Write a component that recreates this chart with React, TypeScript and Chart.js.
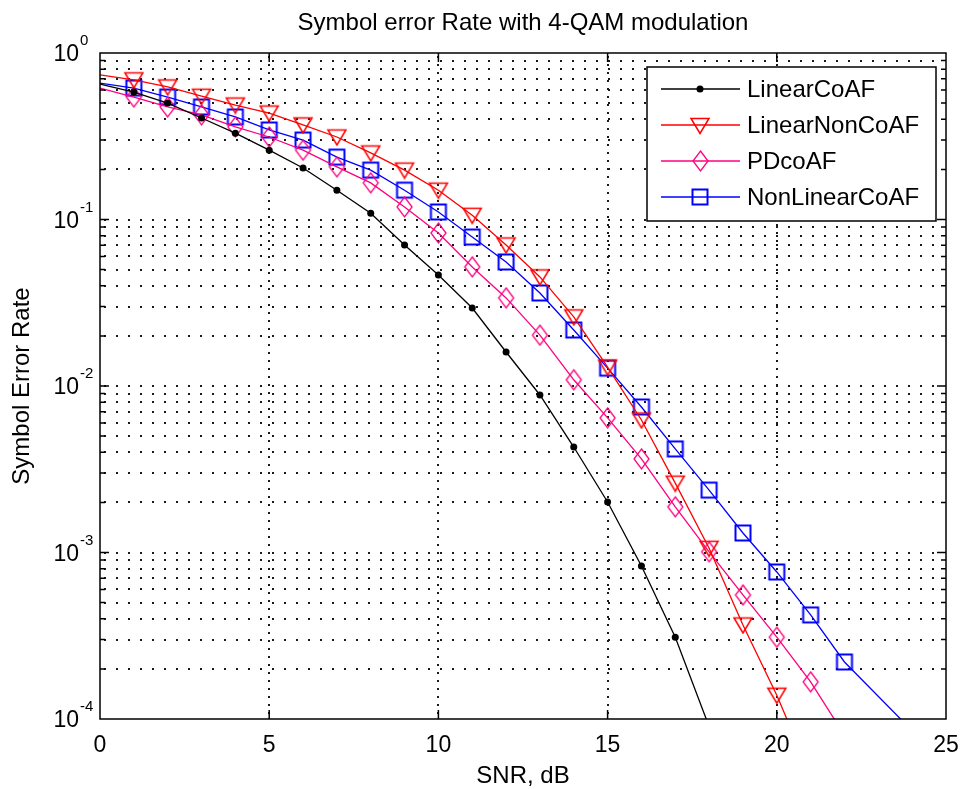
import React, { useEffect, useRef } from 'react';
import { Chart, registerables } from 'chart.js';

Chart.register(...registerables);

// ---- data ----
const snr = [0, 1, 2, 3, 4, 5, 6, 7, 8, 9, 10, 11, 12, 13, 14, 15, 16, 17, 18, 19, 20, 21, 22, 23, 24];
const linearCoAF = [0.65, 0.583, 0.5, 0.407, 0.33, 0.261, 0.204, 0.150, 0.109, 0.0703, 0.0464, 0.0294, 0.016, 0.00883, 0.0043, 0.00201, 0.00083, 0.00031, 0.00009];
const linearNonCoAF = [0.74, 0.69, 0.625, 0.55, 0.487, 0.436, 0.37, 0.313, 0.251, 0.198, 0.150, 0.106, 0.0703, 0.0452, 0.026, 0.013, 0.00625, 0.00261, 0.00106, 0.000367, 0.000139, 0.000046];
const pdCoAF = [0.616, 0.544, 0.474, 0.425, 0.36, 0.313, 0.261, 0.207, 0.166, 0.119, 0.083, 0.0519, 0.0338, 0.0202, 0.0109, 0.00643, 0.00365, 0.00188, 0.00101, 0.000556, 0.00031, 0.000167, 0.00008];
const nonLinearCoAF = [0.66, 0.616, 0.544, 0.474, 0.413, 0.345, 0.30, 0.237, 0.198, 0.150, 0.111, 0.0785, 0.0556, 0.0362, 0.0217, 0.0128, 0.00748, 0.00419, 0.00237, 0.00131, 0.000764, 0.000422, 0.00022, null, 0.000085];
const seriesNames = ['LinearCoAF', 'LinearNonCoAF', 'PDcoAF', 'NonLinearCoAF'];

const xTickValues = [0, 5, 10, 15, 20, 25];
const xTickLabels = ['0', '5', '10', '15', '20', '25'];
const yDecadeValues = [1e-4, 1e-3, 1e-2, 1e-1, 1];
const yTickBase = '10';
const yTickExponents = ['-4', '-3', '-2', '-1', '0'];
const yMinorMultipliers = [2, 3, 4, 5, 6, 7, 8, 9];

const titleText = 'Symbol error Rate with 4-QAM modulation';
const xTitle = 'SNR, dB';
const yTitle = 'Symbol Error Rate';

const FONT = '"Liberation Sans", Arial, Helvetica, sans-serif';

function toPoints(values: (number | null)[]) {
  return values
    .map((v, i) => ({ x: snr[i], y: v }))
    .filter((p) => p.y !== null);
}

function makeMarker(w: number, h: number, draw: (c: CanvasRenderingContext2D) => void) {
  const c = document.createElement('canvas');
  c.width = w;
  c.height = h;
  const ctx = c.getContext('2d') as CanvasRenderingContext2D;
  draw(ctx);
  return c;
}

export default function App() {
  const ref = useRef<HTMLCanvasElement | null>(null);

  useEffect(() => {
    const canvas = ref.current;
    if (!canvas) return;

    const tri = makeMarker(22, 19, (c) => {
      c.strokeStyle = '#ff0000';
      c.lineWidth = 1.5;
      c.beginPath();
      c.moveTo(2, 2.5);
      c.lineTo(20, 2.5);
      c.lineTo(11, 17.5);
      c.closePath();
      c.stroke();
    });
    const dia = makeMarker(19, 24, (c) => {
      c.strokeStyle = '#ff0080';
      c.lineWidth = 1.3;
      c.beginPath();
      c.moveTo(9.5, 2);
      c.lineTo(17, 12);
      c.lineTo(9.5, 22);
      c.lineTo(2, 12);
      c.closePath();
      c.stroke();
    });
    const sq = makeMarker(20, 20, (c) => {
      c.strokeStyle = '#0000ff';
      c.lineWidth = 2;
      c.strokeRect(2.5, 2.5, 15, 15);
    });

    const hideFirst = (r: number) => (ctx: any) => (ctx.dataIndex === 0 ? 0 : r);

    const axesPlugin = {
      id: 'matlabAxes',
      beforeDatasetsDraw(chart: any) {
        const { ctx, chartArea: a, scales } = chart;
        const xs = scales.x;
        const ys = scales.y;
        ctx.save();
        ctx.fillStyle = '#ffffff';
        ctx.fillRect(a.left, a.top, a.right - a.left, a.bottom - a.top);
        ctx.fillStyle = '#1a1a1a';
        const yVals: number[] = [];
        for (let d = 0; d < yDecadeValues.length; d++) {
          const dec = yDecadeValues[d];
          if (d > 0 && d < yDecadeValues.length - 1) yVals.push(dec);
          if (d < yDecadeValues.length - 1) yMinorMultipliers.forEach((m) => yVals.push(dec * m));
        }
        yVals.forEach((v) => {
          const y = Math.round(ys.getPixelForValue(v));
          for (let x = a.left + 4; x < a.right - 2; x += 12) ctx.fillRect(Math.round(x), y - 1, 2, 2);
        });
        xTickValues.forEach((v) => {
          const x = Math.round(xs.getPixelForValue(v));
          if (x <= a.left + 1 || x >= a.right - 1) return;
          for (let y = a.top + 3; y < a.bottom - 1; y += 8) ctx.fillRect(x - 1, Math.round(y), 2, 2);
        });
        ctx.restore();
      },
      afterDatasetsDraw(chart: any) {
        const { ctx, chartArea: a, scales } = chart;
        const xs = scales.x;
        const ys = scales.y;
        ctx.save();
        ctx.strokeStyle = '#000';
        ctx.lineWidth = 1.5;
        ctx.strokeRect(a.left, a.top, a.right - a.left, a.bottom - a.top);
        ctx.beginPath();
        for (let d = 0; d < yDecadeValues.length; d++) {
          const dec = yDecadeValues[d];
          const y = ys.getPixelForValue(dec);
          if (d > 0 && d < yDecadeValues.length - 1) {
            ctx.moveTo(a.left, y); ctx.lineTo(a.left + 9, y);
            ctx.moveTo(a.right, y); ctx.lineTo(a.right - 9, y);
          }
          if (d < yDecadeValues.length - 1) {
            yMinorMultipliers.forEach((m) => {
              const ym = ys.getPixelForValue(dec * m);
              ctx.moveTo(a.left, ym); ctx.lineTo(a.left + 5, ym);
              ctx.moveTo(a.right, ym); ctx.lineTo(a.right - 5, ym);
            });
          }
        }
        xTickValues.forEach((v) => {
          const x = xs.getPixelForValue(v);
          if (x <= a.left + 1 || x >= a.right - 1) return;
          ctx.moveTo(x, a.bottom); ctx.lineTo(x, a.bottom - 9);
          ctx.moveTo(x, a.top); ctx.lineTo(x, a.top + 9);
        });
        ctx.stroke();

        ctx.fillStyle = '#000';
        ctx.font = `23px ${FONT}`;
        ctx.textAlign = 'center';
        ctx.textBaseline = 'middle';
        xTickValues.forEach((v, i) => {
          ctx.fillText(xTickLabels[i], xs.getPixelForValue(v), a.bottom + 27);
        });
        yDecadeValues.forEach((v, i) => {
          const y = ys.getPixelForValue(v);
          ctx.font = `23px ${FONT}`;
          ctx.textAlign = 'right';
          ctx.textBaseline = 'middle';
          ctx.fillText(yTickBase, a.left - 21, y + 2);
          ctx.font = `15px ${FONT}`;
          ctx.textAlign = 'left';
          ctx.fillText(yTickExponents[i], a.left - 20, y - 12);
        });
        ctx.font = `24px ${FONT}`;
        ctx.textAlign = 'center';
        ctx.textBaseline = 'middle';
        ctx.fillText(titleText, (a.left + a.right) / 2, 23);
        ctx.fillText(xTitle, (a.left + a.right) / 2, a.bottom + 57);
        ctx.save();
        ctx.translate(22, (a.top + a.bottom) / 2);
        ctx.rotate(-Math.PI / 2);
        ctx.fillText(yTitle, 0, 0);
        ctx.restore();

        const lx = 647, ly = 67, lw = 289, lh = 154;
        ctx.fillStyle = '#fff';
        ctx.fillRect(lx, ly, lw, lh);
        ctx.strokeStyle = '#000';
        ctx.lineWidth = 1.5;
        ctx.strokeRect(lx, ly, lw, lh);
        const rows = [89, 125, 161, 197];
        chart.data.datasets.forEach((ds: any, i: number) => {
          const y = rows[i];
          ctx.strokeStyle = ds.borderColor;
          ctx.lineWidth = ds.borderWidth;
          ctx.beginPath();
          ctx.moveTo(661, y);
          ctx.lineTo(740, y);
          ctx.stroke();
          const ps = ds.pointStyle;
          if (ps && typeof ps === 'object') {
            ctx.drawImage(ps, Math.round(700 - ps.width / 2), Math.round(y - ps.height / 2));
          } else {
            ctx.fillStyle = ds.pointBackgroundColor;
            ctx.beginPath();
            ctx.arc(700, y, 3.5, 0, Math.PI * 2);
            ctx.fill();
          }
          ctx.fillStyle = '#000';
          ctx.font = `24px ${FONT}`;
          ctx.textAlign = 'left';
          ctx.textBaseline = 'middle';
          ctx.fillText(seriesNames[i], 747, y + 1);
        });
        ctx.restore();
      },
    };

    const chart = new Chart(canvas, {
      type: 'line',
      data: {
        datasets: [
          {
            label: seriesNames[0],
            data: toPoints(linearCoAF),
            borderColor: '#000000',
            borderWidth: 1.3,
            pointStyle: 'circle',
            pointRadius: hideFirst(3.5),
            pointBackgroundColor: '#000000',
            pointBorderWidth: 0,
            tension: 0,
            clip: 0,
          },
          {
            label: seriesNames[1],
            data: toPoints(linearNonCoAF),
            borderColor: '#ff0000',
            borderWidth: 1.3,
            pointStyle: tri,
            pointRadius: hideFirst(8),
            tension: 0,
            clip: 0,
          },
          {
            label: seriesNames[2],
            data: toPoints(pdCoAF),
            borderColor: '#ff0080',
            borderWidth: 1.3,
            pointStyle: dia,
            pointRadius: hideFirst(8),
            tension: 0,
            clip: 0,
          },
          {
            label: seriesNames[3],
            data: toPoints(nonLinearCoAF),
            borderColor: '#0000ff',
            borderWidth: 1.3,
            pointStyle: sq,
            pointRadius: hideFirst(8),
            tension: 0,
            clip: 0,
          },
        ] as any,
      },
      options: {
        responsive: false,
        animation: false,
        events: [],
        layout: { padding: { left: 100, top: 53, right: 15, bottom: 70 } },
        plugins: { legend: { display: false }, title: { display: false }, tooltip: { enabled: false } },
        scales: {
          x: { type: 'linear', min: 0, max: 25, display: false },
          y: { type: 'logarithmic', min: 1e-4, max: 1, display: false },
        },
      } as any,
      plugins: [axesPlugin],
    });

    return () => chart.destroy();
  }, []);

  return (
    <div style={{ position: 'fixed', left: 0, top: 0, width: 961, height: 789, background: '#fff' }}>
      <canvas ref={ref} width={961} height={789} style={{ width: 961, height: 789, display: 'block' }} />
    </div>
  );
}
